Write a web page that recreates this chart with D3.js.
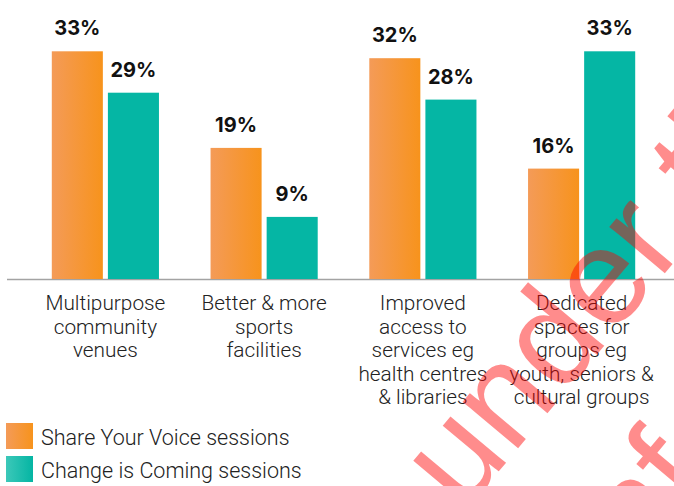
<!DOCTYPE html>
<html>
<head>
<meta charset="utf-8">
<script src="https://cdn.jsdelivr.net/npm/d3@7"></script>
<style>
  body { margin: 0; background: #fff; }
  svg { display: block; }
  .value { font-family: Inter, "DejaVu Sans", sans-serif; font-weight: 700; font-size: 20px; fill: #111; }
  .cat { font-family: Roboto, "Liberation Sans", sans-serif; font-weight: 300; font-size: 20.8px; fill: #222; }
  .legend text { font-family: Roboto, "Liberation Sans", sans-serif; font-weight: 300; font-size: 21.5px; fill: #222; }
  .mark { font-family: "Liberation Sans", Arial, sans-serif; font-size: 137px; fill: #ff0000; fill-opacity: 0.45; }
</style>
</head>
<body>
<div id="chart"></div>
<script>
var categories = ["Multipurpose community venues", "Better & more sports facilities",
  "Improved access to services eg health centres & libraries",
  "Dedicated spaces for groups eg youth, seniors & cultural groups"];
var categoryLines = [
  ["Multipurpose", "community", "venues"],
  ["Better & more", "sports", "facilities"],
  ["Improved", "access to", "services eg", "health centres", "& libraries"],
  ["Dedicated", "spaces for", "groups eg", "youth, seniors &", "cultural groups"]
];
var seriesNames = ["Share Your Voice sessions", "Change is Coming sessions"];
// bar heights as drawn in the picture
var shareYourVoice = [33, 19, 32, 16];
var changeIsComing = [27, 9, 26, 33];
// value labels as printed
var shareYourVoiceLabels = ["33%", "19%", "32%", "16%"];
var changeIsComingLabels = ["29%", "9%", "28%", "33%"];
var watermark = ["Released under the", "Official Information Act 1982"];

var width = 674, height = 486;
var baseY = 279;

var svg = d3.select("#chart").append("svg")
  .attr("width", width)
  .attr("height", height);

var defs = svg.append("defs");
function grad(id, from, to) {
  var g = defs.append("linearGradient").attr("id", id)
    .attr("x1", "0").attr("x2", "1").attr("y1", "0").attr("y2", "0");
  g.append("stop").attr("offset", "0").attr("stop-color", from);
  g.append("stop").attr("offset", "1").attr("stop-color", to);
}
grad("orangeGrad", "#f49b58", "#f7931c");
grad("tealGrad", "#3cc8b9", "#04b5a3");

var colors = [["url(#orangeGrad)", "url(#orangeGrad)"], ["#05b6a4", "url(#tealGrad)"]];

var data = categories.map(function(c, i) {
  return {
    cat: c,
    lines: categoryLines[i],
    bars: [
      { k: 0, v: shareYourVoice[i], label: shareYourVoiceLabels[i] },
      { k: 1, v: changeIsComing[i], label: changeIsComingLabels[i] }
    ]
  };
});

var x0 = d3.scaleBand().domain(categories).range([26, 661])
  .paddingInner(0.325).paddingOuter(0.1625);
var x1 = d3.scaleBand().domain([0, 1]).range([0, x0.bandwidth()]).paddingInner(0.09);
var y = d3.scaleLinear().domain([0, 40]).range([baseY, 3]);

// baseline
svg.append("line")
  .attr("x1", 7).attr("x2", width)
  .attr("y1", baseY + 0.5).attr("y2", baseY + 0.5)
  .attr("stroke", "#a3a3a3")
  .attr("stroke-width", 1.5);

var groups = svg.selectAll(".group").data(data).enter()
  .append("g")
  .attr("class", "group")
  .attr("transform", function(d) { return "translate(" + x0(d.cat) + ",0)"; });

groups.selectAll("rect")
  .data(function(d) { return d.bars; })
  .enter().append("rect")
  .attr("x", function(d) { return x1(d.k); })
  .attr("width", x1.bandwidth())
  .attr("y", function(d) { return y(d.v); })
  .attr("height", function(d) { return baseY - y(d.v); })
  .attr("fill", function(d) { return colors[d.k][0]; });

groups.selectAll(".value")
  .data(function(d) { return d.bars; })
  .enter().append("text")
  .attr("class", "value")
  .attr("x", function(d) { return x1(d.k) + x1.bandwidth() / 2; })
  .attr("y", function(d) { return y(d.v) - 16; })
  .attr("text-anchor", "middle")
  .text(function(d) { return d.label; });

var labels = groups.append("text")
  .attr("class", "cat")
  .attr("text-anchor", "middle");
labels.selectAll("tspan")
  .data(function(d) { return d.lines; })
  .enter().append("tspan")
  .attr("x", x0.bandwidth() / 2)
  .attr("y", function(d, i) { return 310 + i * 23.5; })
  .text(function(d) { return d; });

// legend
var legend = svg.append("g").attr("class", "legend")
  .selectAll("g").data(seriesNames).enter()
  .append("g")
  .attr("transform", function(d, i) { return "translate(6," + (423 + i * 33) + ")"; });

legend.append("rect")
  .attr("width", 27)
  .attr("height", 26)
  .attr("fill", function(d, i) { return colors[i][1]; });

legend.append("text")
  .attr("x", 35)
  .attr("y", 22)
  .text(function(d) { return d; });

// watermark on top
var wm = svg.append("g")
  .attr("transform", "rotate(-50)")
  .style("pointer-events", "none");
var wmPos = [[-713, 685], [-517, 858]];
wm.selectAll("text").data(watermark).enter()
  .append("text")
  .attr("class", "mark")
  .attr("x", function(d, i) { return wmPos[i][0]; })
  .attr("y", function(d, i) { return wmPos[i][1]; })
  .text(function(d) { return d; });
</script>
</body>
</html>
